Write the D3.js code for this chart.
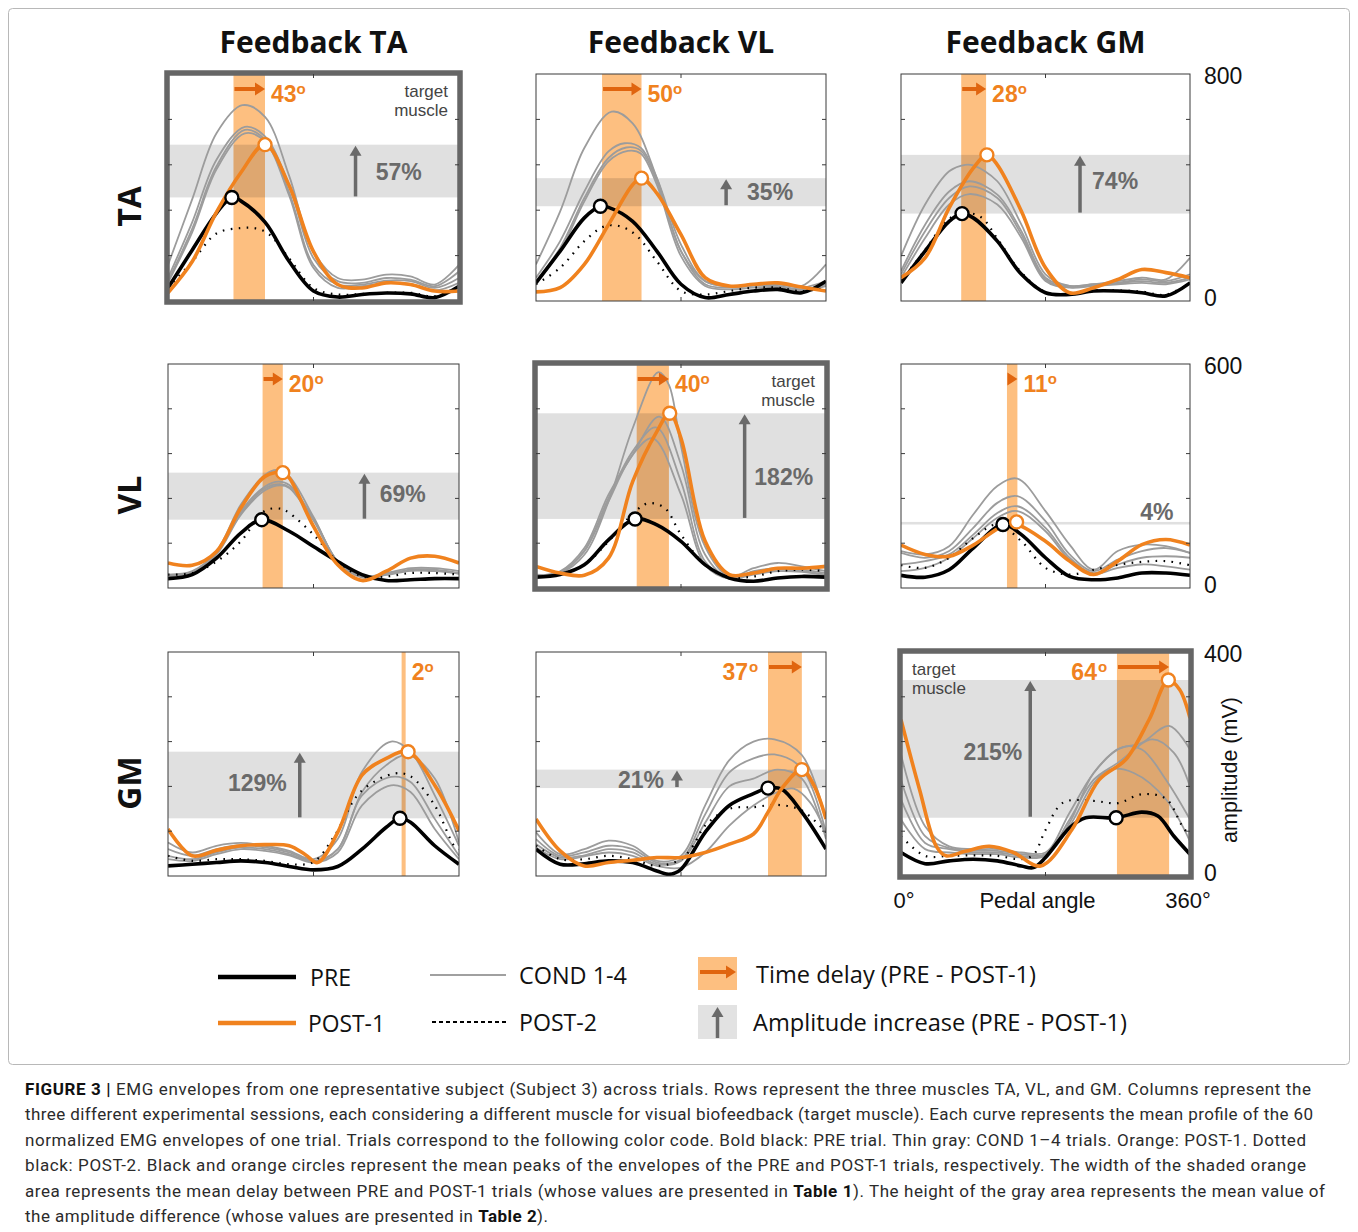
<!DOCTYPE html>
<html>
<head>
<meta charset="utf-8">
<script src="https://cdn.jsdelivr.net/npm/d3@7"></script>
<style>
  body { margin: 0; background: #fff; }
</style>
</head>
<body>
<svg id="chart" width="1358" height="1232"></svg>
<script>
// ---------- data ----------
let muscles = ['TA', 'VL', 'GM']
let sessions = ['Feedback TA', 'Feedback VL', 'Feedback GM']
let yMax = [800, 600, 400]
let delayLabels = [43, 50, 28, 20, 40, 11, 2, 37, 64]
let ampLabels = [57, 35, 74, 69, 182, 4, 129, 21, 215]

// peaks [angle, amplitude] of PRE and POST-1, row by row
let prePeaks = [[79,365],[80,334],[76,308],[116,183],[123,185],[127,170],[287,103],[288,157],[268,104]]
let postPeaks = [[120,551],[131,433],[107,515],[142,309],[166,468],[144,177],[297,222],[330,190],[333,350]]
// shaded delay band [start, end] in degrees
let delayBands = [[81,120],[82,131],[75,106],[117,142],[125,165],[132,145],[289,294],[288,330],[269,334]]

// row TA
let taTA_pre = [[0,46],[30,180],[60,310],[79,365],[90,353],[120,278],[150,139],[180,35],[210,14],[240,23],[270,28],[300,25],[330,12],[360,52]]
let taTA_post1 = [[0,29],[30,139],[60,313],[90,452],[120,551],[150,406],[180,174],[210,58],[240,46],[270,64],[300,58],[330,35],[360,35]]
let taTA_post2 = [[0,46],[30,139],[60,238],[90,257],[110,255],[125,235],[150,150],[180,46],[210,23],[240,25],[270,29],[300,29],[330,17],[360,52]]
let taTA_cond = [
  [[0,127],[30,359],[60,591],[92,690],[120,649],[150,440],[180,174],[210,81],[240,75],[270,93],[300,87],[330,58],[360,127]],
  [[0,81],[30,278],[60,498],[95,614],[120,580],[150,406],[180,151],[210,70],[240,64],[270,81],[300,75],[330,52],[360,104]],
  [[0,70],[30,255],[60,475],[95,603],[120,568],[150,382],[180,127],[210,58],[240,58],[270,72],[300,70],[330,46],[360,81]],
  [[0,64],[30,243],[60,464],[95,591],[120,562],[150,371],[180,116],[210,46],[240,52],[270,64],[300,60],[330,37],[360,64]]
]
let taVL_pre = [[0,64],[30,176],[60,293],[80,334],[90,330],[120,281],[150,176],[180,59],[210,12],[240,23],[270,35],[300,41],[330,29],[360,70]]
let taVL_post1 = [[0,32],[30,47],[60,129],[90,269],[120,410],[131,433],[150,380],[180,234],[210,82],[240,53],[270,59],[300,64],[330,49],[360,35]]
let taVL_post2 = [[0,59],[30,117],[60,211],[85,263],[105,263],[125,230],[150,140],[180,35],[210,23],[240,35],[270,47],[300,47],[330,35],[360,47]]
let taVL_cond = [
  [[0,129],[30,316],[60,539],[94,667],[120,626],[150,433],[180,176],[210,70],[240,53],[270,59],[300,64],[330,53],[360,129]],
  [[0,82],[30,211],[60,386],[90,527],[110,556],[130,540],[150,433],[180,199],[210,70],[240,53],[270,59],[300,59],[330,47],[360,70]],
  [[0,70],[30,187],[60,363],[90,504],[112,541],[130,530],[150,422],[180,176],[210,59],[240,47],[270,53],[300,53],[330,41],[360,59]],
  [[0,64],[30,176],[60,351],[90,492],[114,529],[130,520],[150,410],[180,158],[210,53],[240,41],[270,47],[300,49],[330,37],[360,53]]
]
let taGM_pre = [[0,64],[30,176],[60,281],[76,308],[90,293],[120,211],[150,94],[180,29],[210,23],[240,35],[270,35],[300,29],[330,18],[360,64]]
let taGM_post1 = [[0,82],[30,152],[60,328],[90,468],[107,515],[120,480],[150,316],[180,117],[210,29],[240,47],[270,76],[300,111],[330,100],[360,82]]
let taGM_post2 = [[0,70],[30,180],[60,290],[80,310],[100,295],[120,220],[150,100],[180,32],[210,25],[240,37],[270,37],[300,33],[330,22],[360,64]]
let taGM_cond = [
  [[0,158],[30,340],[60,457],[80,480],[90,478],[120,422],[150,269],[180,94],[210,53],[240,59],[270,70],[300,82],[330,76],[360,152]],
  [[0,105],[30,269],[60,386],[85,422],[120,375],[150,246],[180,82],[210,53],[240,59],[270,64],[300,76],[330,70],[360,94]],
  [[0,94],[30,246],[60,363],[85,404],[120,363],[150,234],[180,76],[210,49],[240,56],[270,63],[300,70],[330,64],[360,82]],
  [[0,82],[30,222],[60,340],[85,377],[120,340],[150,222],[180,70],[210,47],[240,53],[270,59],[300,64],[330,59],[360,76]]
]

// row VL
let vlTA_pre = [[0,25],[30,36],[60,80],[90,147],[116,183],[150,152],[180,111],[210,71],[240,36],[270,20],[300,22],[330,25],[360,25]]
let vlTA_post1 = [[0,67],[30,61],[60,98],[90,214],[120,299],[142,309],[150,295],[180,165],[210,62],[240,20],[270,45],[300,80],[330,85],[360,67]]
let vlTA_post2 = [[0,36],[30,40],[60,71],[90,125],[120,207],[140,212],[150,201],[180,143],[210,71],[240,31],[270,31],[300,40],[330,40],[360,36]]
let vlTA_cond = [
  [[0,36],[30,45],[60,98],[90,223],[120,303],[135,316],[150,299],[180,190],[210,71],[240,31],[270,40],[300,53],[330,53],[360,45]],
  [[0,34],[30,43],[60,94],[90,205],[120,272],[137,285],[150,276],[180,187],[210,71],[240,29],[270,36],[300,49],[330,49],[360,40]],
  [[0,32],[30,42],[60,92],[90,200],[120,267],[138,278],[150,270],[180,184],[210,70],[240,28],[270,35],[300,46],[330,47],[360,38]],
  [[0,33],[30,41],[60,90],[90,196],[120,262],[139,275],[150,268],[180,181],[210,69],[240,30],[270,38],[300,47],[330,45],[360,39]]
]
let vlVL_pre = [[0,29],[30,36],[60,62],[90,129],[123,185],[150,169],[180,125],[210,62],[240,27],[270,18],[300,27],[330,31],[360,29]]
let vlVL_post1 = [[0,58],[30,40],[60,34],[90,80],[120,285],[150,419],[166,468],[180,401],[210,125],[240,36],[270,40],[300,53],[330,53],[360,58]]
let vlVL_post2 = [[0,31],[30,36],[60,62],[90,125],[123,205],[140,227],[160,214],[180,143],[210,62],[240,29],[270,31],[300,45],[330,49],[360,45]]
let vlVL_cond = [
  [[0,36],[30,40],[60,89],[90,232],[120,428],[152,578],[165,544],[180,380],[210,110],[240,31],[270,53],[300,67],[330,58],[360,45]],
  [[0,34],[30,45],[60,107],[90,250],[120,357],[153,459],[180,330],[210,89],[240,27],[270,45],[300,53],[330,49],[360,40]],
  [[0,33],[30,43],[60,100],[90,241],[120,366],[149,430],[180,285],[210,71],[240,25],[270,40],[300,49],[330,45],[360,36]],
  [[0,30],[30,41],[60,98],[90,232],[120,357],[145,401],[180,250],[210,62],[240,25],[270,36],[300,45],[330,43],[360,34]]
]
let vlGM_pre = [[0,34],[30,29],[60,49],[90,107],[127,170],[150,143],[180,81],[210,31],[240,22],[270,27],[300,40],[330,40],[360,34]]
let vlGM_post1 = [[0,115],[30,90],[60,85],[90,115],[127,166],[144,170],[180,125],[210,72],[240,36],[270,72],[300,116],[330,130],[360,115]]
let vlGM_post2 = [[0,61],[30,54],[60,81],[90,134],[120,170],[150,125],[180,54],[210,36],[240,49],[270,62],[300,70],[330,72],[360,61]]
let vlGM_cond = [
  [[0,99],[30,90],[60,112],[90,197],[120,273],[145,293],[180,206],[210,116],[240,49],[270,99],[300,116],[330,112],[360,94]],
  [[0,94],[30,81],[60,99],[90,161],[120,228],[145,246],[180,179],[210,90],[240,45],[270,76],[300,99],[330,107],[360,94]],
  [[0,63],[30,72],[60,90],[90,143],[120,201],[145,219],[180,161],[210,81],[240,40],[270,63],[300,81],[330,85],[360,81]],
  [[0,45],[30,54],[60,81],[90,134],[120,188],[145,206],[180,152],[210,76],[240,38],[270,54],[300,63],[330,58],[360,49]]
]

// row GM
let gmTA_pre = [[0,18],[30,21],[60,24],[90,27],[120,24],[150,17],[180,11],[210,17],[240,48],[270,87],[287,103],[300,96],[330,54],[360,21]]
let gmTA_post1 = [[0,84],[30,36],[60,46],[90,54],[120,56],[150,54],[170,38],[185,24],[210,78],[240,180],[270,210],[297,222],[330,162],[360,81]]
let gmTA_post2 = [[0,36],[30,27],[60,30],[90,30],[120,27],[150,21],[180,25],[206,72],[238,150],[280,183],[300,178],[330,126],[354,54],[360,48]]
let gmTA_cond = [
  [[0,60],[30,42],[60,54],[90,59],[120,54],[150,45],[180,30],[210,66],[240,186],[276,240],[300,222],[330,144],[360,54]],
  [[0,48],[30,36],[60,48],[90,55],[120,51],[150,42],[180,27],[210,48],[240,150],[270,198],[297,216],[330,174],[360,60]],
  [[0,36],[30,30],[60,42],[90,51],[120,48],[150,39],[180,25],[210,48],[240,144],[276,177],[300,168],[330,102],[360,36]],
  [[0,30],[30,27],[60,39],[90,48],[120,45],[150,37],[180,24],[210,42],[240,126],[276,162],[300,150],[330,84],[360,30]]
]
let gmVL_pre = [[0,48],[30,21],[60,22],[90,27],[120,24],[150,9],[165,3],[180,12],[210,78],[240,126],[270,147],[288,157],[305,155],[330,114],[360,48]]
let gmVL_post1 = [[0,102],[30,45],[60,18],[90,24],[120,28],[150,33],[180,33],[210,42],[240,57],[270,75],[288,114],[305,156],[330,190],[345,162],[360,102]]
let gmVL_post2 = [[0,54],[30,30],[60,30],[90,36],[120,30],[150,18],[180,30],[195,54],[210,90],[240,120],[270,123],[300,127],[330,117],[360,78]]
let gmVL_cond = [
  [[0,78],[30,39],[60,48],[90,63],[120,54],[150,27],[180,36],[210,126],[240,207],[270,240],[296,244],[330,216],[360,102]],
  [[0,66],[30,36],[60,42],[90,54],[120,48],[150,24],[180,30],[210,110],[240,185],[270,210],[296,217],[330,192],[360,78]],
  [[0,57],[30,33],[60,37],[90,48],[120,42],[150,21],[180,27],[210,95],[240,160],[270,174],[300,190],[330,174],[360,66]],
  [[0,51],[30,30],[60,35],[90,42],[120,36],[150,18],[180,15],[210,42],[240,90],[270,126],[300,150],[320,156],[340,132],[360,78]]
]
let gmGM_pre = [[0,42],[30,22],[60,27],[90,30],[120,27],[150,18],[165,15],[180,33],[210,86],[230,104],[268,104],[300,114],[320,107],[340,71],[360,39]]
let gmGM_post1 = [[0,279],[23,155],[44,53],[56,36],[80,44],[110,53],[140,42],[174,18],[213,83],[247,172],[280,208],[309,279],[333,350],[347,333],[360,282]]
let gmGM_post2 = [[0,71],[30,36],[60,36],[90,37],[120,36],[150,30],[165,38],[180,82],[202,131],[240,134],[270,130],[300,146],[330,138],[350,90],[360,71]]
let gmGM_cond = [
  [[0,217],[30,89],[60,53],[90,48],[120,48],[150,42],[180,42],[210,113],[240,184],[270,226],[300,238],[334,268],[360,226]],
  [[0,172],[30,71],[60,50],[90,45],[120,45],[150,39],[180,39],[210,101],[240,172],[270,202],[313,244],[340,220],[360,160]],
  [[0,137],[30,59],[60,48],[90,42],[120,42],[150,36],[180,37],[210,95],[240,184],[276,230],[300,226],[330,172],[360,101]],
  [[0,101],[30,48],[60,42],[90,39],[120,39],[150,33],[180,36],[210,89],[240,166],[260,190],[290,184],[330,137],[360,62]]
]

let captionLines = [
  [['FIGURE 3 | ', true], ['EMG envelopes from one representative subject (Subject 3) across trials. Rows represent the three muscles TA, VL, and GM. Columns represent the', false]],
  [['three different experimental sessions, each considering a different muscle for visual biofeedback (target muscle). Each curve represents the mean profile of the 60', false]],
  [['normalized EMG envelopes of one trial. Trials correspond to the following color code. Bold black: PRE trial. Thin gray: COND 1\u20134 trials. Orange: POST-1. Dotted', false]],
  [['black: POST-2. Black and orange circles represent the mean peaks of the envelopes of the PRE and POST-1 trials, respectively. The width of the shaded orange', false]],
  [['area represents the mean delay between PRE and POST-1 trials (whose values are presented in ', false], ['Table 1', true], ['). The height of the gray area represents the mean value of', false]],
  [['the amplitude difference (whose values are presented in ', false], ['Table 2', true], [').', false]]
]

// ---------- layout ----------
let colX = [[168, 459], [536, 826], [901, 1190]]
let rowY = [[74, 301], [364, 588], [652, 876]]
let orange = '#f0821e'
let orangeDark = '#e0650f'
let orangeBand = '#fdbf80'
let grayText = '#6a6a6a'
let serif = 'Liberation Sans, Arial, sans-serif'

let curves = [
  [taTA_pre, taTA_post1, taTA_post2, taTA_cond],
  [taVL_pre, taVL_post1, taVL_post2, taVL_cond],
  [taGM_pre, taGM_post1, taGM_post2, taGM_cond],
  [vlTA_pre, vlTA_post1, vlTA_post2, vlTA_cond],
  [vlVL_pre, vlVL_post1, vlVL_post2, vlVL_cond],
  [vlGM_pre, vlGM_post1, vlGM_post2, vlGM_cond],
  [gmTA_pre, gmTA_post1, gmTA_post2, gmTA_cond],
  [gmVL_pre, gmVL_post1, gmVL_post2, gmVL_cond],
  [gmGM_pre, gmGM_post1, gmGM_post2, gmGM_cond]
]

// where the annotations sit in each panel (angles in degrees)
let labelLayout = [
  { delaySide: 'right', ampArrow: 232, ampText: 257, ampAnchor: 'start', ampDy: 1, target: 'right' },
  { delaySide: 'right', ampArrow: 236, ampText: 262, ampAnchor: 'start', ampDy: 0 },
  { delaySide: 'right', ampArrow: 223, ampText: 238, ampAnchor: 'start', ampDy: -4 },
  { delaySide: 'right', ampArrow: 243, ampText: 262, ampAnchor: 'start', ampDy: -2 },
  { delaySide: 'right', ampArrow: 259, ampText: 271, ampAnchor: 'start', ampDy: 11, target: 'right' },
  { delaySide: 'right', ampArrow: null, ampText: 298, ampAnchor: 'start', ampDy: -12 },
  { delaySide: 'right', noDelayArrow: true, ampArrow: 163, ampText: 147, ampAnchor: 'end', ampDy: -2 },
  { delaySide: 'left', ampArrow: 175, ampText: 159, ampAnchor: 'end', ampDy: 1 },
  { delaySide: 'left', ampArrow: 161, ampText: 151, ampAnchor: 'end', ampDy: 3, target: 'left' }
]

let svg = d3.select('#chart')

// figure frame
svg.append('rect')
  .attr('x', 8.5).attr('y', 8.5)
  .attr('width', 1341).attr('height', 1056)
  .attr('rx', 4)
  .attr('fill', 'none')
  .attr('stroke', '#b8b8b8')

let hArrow = (g, xa, xb, yy, color) => {
  g.append('line').attr('x1', xa).attr('x2', xb - 8).attr('y1', yy).attr('y2', yy)
    .attr('stroke', color).attr('stroke-width', 4)
  g.append('path')
    .attr('d', `M${xb - 10},${yy - 6.5}L${xb},${yy}L${xb - 10},${yy + 6.5}Z`)
    .attr('fill', color)
}

let vArrow = (g, xx, ya, yb, color) => {
  g.append('line').attr('x1', xx).attr('x2', xx).attr('y1', ya).attr('y2', yb + 8)
    .attr('stroke', color).attr('stroke-width', 3.5)
  g.append('path')
    .attr('d', `M${xx - 6},${yb + 10}L${xx},${yb}L${xx + 6},${yb + 10}Z`)
    .attr('fill', color)
}

let degText = (g, xx, yy, value, anchor) => {
  let t = g.append('text')
    .attr('x', xx).attr('y', yy)
    .attr('text-anchor', anchor)
    .attr('font-family', serif).attr('font-weight', 'bold')
    .attr('font-size', 23).attr('fill', orange)
  t.append('tspan').text(value)
  t.append('tspan').attr('dy', -8).attr('font-size', 15).text('o')
}

let drawPanel = (r, c) => {
  let i = r * 3 + c
  let [x0, x1] = colX[c]
  let [y0, y1] = rowY[r]
  let x = d3.scaleLinear().domain([0, 360]).range([x0, x1])
  let y = d3.scaleLinear().domain([0, yMax[r]]).range([y1, y0])
  let g = svg.append('g')
  let isTarget = r === c
  let lay = labelLayout[i]

  let clipId = 'clip' + i
  svg.append('clipPath').attr('id', clipId)
    .append('rect').attr('x', x0).attr('y', y0).attr('width', x1 - x0).attr('height', y1 - y0)

  let band = delayBands[i]
  g.append('rect')
    .attr('x', x(band[0])).attr('y', y0)
    .attr('width', x(band[1]) - x(band[0])).attr('height', y1 - y0)
    .attr('fill', orangeBand)

  let pre = prePeaks[i], post = postPeaks[i]
  g.append('rect')
    .attr('x', x0).attr('width', x1 - x0)
    .attr('y', y(post[1])).attr('height', Math.max(1.5, y(pre[1]) - y(post[1])))
    .attr('fill', '#000').attr('fill-opacity', 0.12)

  let line = d3.line()
    .x(d => x(d[0]))
    .y(d => y(d[1]))
    .curve(d3.curveCatmullRom.alpha(0.5))

  let [cPre, cPost1, cPost2, cCond] = curves[i]
  let lines = g.append('g').attr('clip-path', `url(#${clipId})`)
  lines.selectAll('.cond')
    .data(cCond)
    .enter()
    .append('path')
    .attr('class', 'cond')
    .attr('d', line)
    .attr('fill', 'none')
    .attr('stroke', '#9c9c9c')
    .attr('stroke-width', 1.8)
  lines.append('path').attr('d', line(cPost2))
    .attr('fill', 'none').attr('stroke', '#000')
    .attr('stroke-width', 2.2).attr('stroke-dasharray', '1.6,6.4')
  lines.append('path').attr('d', line(cPre))
    .attr('fill', 'none').attr('stroke', '#000').attr('stroke-width', 3.6)
  lines.append('path').attr('d', line(cPost1))
    .attr('fill', 'none').attr('stroke', orange).attr('stroke-width', 3.6)

  g.append('circle').attr('cx', x(pre[0])).attr('cy', y(pre[1])).attr('r', 6.5)
    .attr('fill', '#fff').attr('stroke', '#000').attr('stroke-width', 2.4)
  g.append('circle').attr('cx', x(post[0])).attr('cy', y(post[1])).attr('r', 6.5)
    .attr('fill', '#fff').attr('stroke', orange).attr('stroke-width', 2.4)

  // frame and ticks
  if (isTarget) {
    g.append('rect').attr('x', x0 - 1).attr('y', y0 - 1)
      .attr('width', x1 - x0 + 2).attr('height', y1 - y0 + 2)
      .attr('fill', 'none').attr('stroke', '#666').attr('stroke-width', 5.5)
  } else {
    g.append('rect').attr('x', x0).attr('y', y0)
      .attr('width', x1 - x0).attr('height', y1 - y0)
      .attr('fill', 'none').attr('stroke', '#3a3a3a').attr('stroke-width', 1)
  }
  let yt = d3.range(1, 5).map(k => yMax[r] * k / 5)
  yt.forEach(v => {
    g.append('line').attr('x1', x0).attr('x2', x0 + 4).attr('y1', y(v)).attr('y2', y(v)).attr('stroke', '#3a3a3a')
    g.append('line').attr('x1', x1).attr('x2', x1 - 4).attr('y1', y(v)).attr('y2', y(v)).attr('stroke', '#3a3a3a')
  })
  g.append('line').attr('x1', x(180)).attr('x2', x(180)).attr('y1', y0).attr('y2', y0 + 4).attr('stroke', '#3a3a3a')
  g.append('line').attr('x1', x(180)).attr('x2', x(180)).attr('y1', y1).attr('y2', y1 - 4).attr('stroke', '#3a3a3a')

  // delay annotation
  let bx0 = x(band[0]), bx1 = x(band[1])
  if (!lay.noDelayArrow) hArrow(g, bx0 + 1, bx1, y0 + 15, orangeDark)
  if (lay.delaySide === 'right') degText(g, bx1 + 6, y0 + 28, delayLabels[i], 'start')
  else {
    let t = g.append('text')
      .attr('x', bx0 - 20).attr('y', y0 + 28)
      .attr('text-anchor', 'end')
      .attr('font-family', serif).attr('font-weight', 'bold')
      .attr('font-size', 23).attr('fill', orange)
    t.append('tspan').text(delayLabels[i])
    g.append('text').attr('x', bx0 - 19).attr('y', y0 + 20)
      .attr('font-family', serif).attr('font-weight', 'bold')
      .attr('font-size', 15).attr('fill', orange).text('o')
  }

  // amplitude annotation
  let yTop = y(post[1]), yBot = y(pre[1])
  if (lay.ampArrow !== null) vArrow(g, x(lay.ampArrow), yBot - 1, yTop + 1, grayText)
  g.append('text')
    .attr('x', x(lay.ampText)).attr('y', (yTop + yBot) / 2 + lay.ampDy)
    .attr('dy', '0.36em')
    .attr('text-anchor', lay.ampAnchor)
    .attr('font-family', serif).attr('font-weight', 'bold')
    .attr('font-size', 23).attr('fill', grayText)
    .text(ampLabels[i] + '%')

  if (lay.target) {
    let tx = lay.target === 'right' ? x1 - 11 : x0 + 11
    let anchor = lay.target === 'right' ? 'end' : 'start'
    let t = g.append('text')
      .attr('text-anchor', anchor)
      .attr('font-family', serif).attr('font-size', 17).attr('fill', '#444')
    t.append('tspan').attr('x', tx).attr('y', y0 + 23).text('target')
    t.append('tspan').attr('x', tx).attr('y', y0 + 42).text('muscle')
  }

  // right-hand amplitude scale
  if (c === 2) {
    g.append('text').attr('x', 1204).attr('y', y0 + 2).attr('dy', '0.36em')
      .attr('font-family', serif).attr('font-size', 23).attr('fill', '#111')
      .text(yMax[r])
    g.append('text').attr('x', 1204).attr('y', y1 - 3).attr('dy', '0.36em')
      .attr('font-family', serif).attr('font-size', 23).attr('fill', '#111')
      .text(0)
  }
}

for (let r = 0; r < 3; r++) {
  for (let c = 0; c < 3; c++) drawPanel(r, c)
}

// column titles
sessions.forEach((s, c) => {
  svg.append('text')
    .attr('x', (colX[c][0] + colX[c][1]) / 2).attr('y', 53)
    .attr('text-anchor', 'middle')
    .attr('font-family', 'Open Sans, sans-serif').attr('font-weight', 'bold')
    .attr('font-size', 30).attr('fill', '#111')
    .text(s)
})

// row labels
muscles.forEach((m, r) => {
  let cy = (rowY[r][0] + rowY[r][1]) / 2 + 19
  svg.append('text')
    .attr('transform', `translate(141,${cy}) rotate(-90)`)
    .attr('text-anchor', 'middle')
    .attr('font-family', 'Open Sans, sans-serif').attr('font-weight', 'bold')
    .attr('font-size', 32).attr('fill', '#111')
    .text(m)
})

// axis titles (bottom-right panel)
let ax = d3.scaleLinear().domain([0, 360]).range(colX[2])
svg.append('text').attr('x', ax(0) + 3).attr('y', 900).attr('dy', '0.36em')
  .attr('text-anchor', 'middle').attr('font-family', serif).attr('font-size', 22).attr('fill', '#111').text('0°')
svg.append('text').attr('x', ax(180) - 8).attr('y', 900).attr('dy', '0.36em')
  .attr('text-anchor', 'middle').attr('font-family', serif).attr('font-size', 22).attr('fill', '#111').text('Pedal angle')
svg.append('text').attr('x', ax(360) - 2).attr('y', 900).attr('dy', '0.36em')
  .attr('text-anchor', 'middle').attr('font-family', serif).attr('font-size', 22).attr('fill', '#111').text('360°')
svg.append('text')
  .attr('transform', `translate(1229,${(rowY[2][0] + rowY[2][1]) / 2 + 6}) rotate(-90)`)
  .attr('dy', '0.36em')
  .attr('text-anchor', 'middle').attr('font-family', serif).attr('font-size', 21.5).attr('fill', '#111')
  .text('amplitude (mV)')

// legend
let legend = svg.append('g')
let legendFont = 'Open Sans, sans-serif'
let legText = (x, y, s, w) => legend.append('text')
  .attr('x', x).attr('y', y)
  .attr('font-family', legendFont).attr('font-size', 23).attr('fill', '#111')
  .attr('textLength', w).attr('lengthAdjust', 'spacingAndGlyphs')
  .text(s)

legend.append('line').attr('x1', 218).attr('x2', 296).attr('y1', 977).attr('y2', 977)
  .attr('stroke', '#000').attr('stroke-width', 4.5)
legText(310, 986, 'PRE', 41)
legend.append('line').attr('x1', 218).attr('x2', 296).attr('y1', 1023).attr('y2', 1023)
  .attr('stroke', orange).attr('stroke-width', 4.5)
legText(308, 1032, 'POST-1', 77)
legend.append('line').attr('x1', 430).attr('x2', 506).attr('y1', 975).attr('y2', 975)
  .attr('stroke', '#a0a0a0').attr('stroke-width', 2)
legText(519, 984, 'COND 1-4', 108)
legend.append('line').attr('x1', 432).attr('x2', 506).attr('y1', 1022).attr('y2', 1022)
  .attr('stroke', '#000').attr('stroke-width', 2).attr('stroke-dasharray', '4,3')
legText(519, 1031, 'POST-2', 78)

legend.append('rect').attr('x', 698).attr('y', 957).attr('width', 39).attr('height', 33).attr('fill', orangeBand)
hArrow(legend, 700, 736, 972, orangeDark)
legText(756, 983, 'Time delay (PRE - POST-1)', 280)
legend.append('rect').attr('x', 698).attr('y', 1005).attr('width', 39).attr('height', 34).attr('fill', '#e2e2e2')
vArrow(legend, 717.5, 1038, 1007, grayText)
legText(753, 1031, 'Amplitude increase (PRE - POST-1)', 374)

// caption
let capWidths = [1286, 1288, 1281, 1281, 1300, 523]
captionLines.forEach((segs, k) => {
  let t = svg.append('text')
    .attr('x', 25).attr('y', 1095 + k * 25.4)
    .attr('font-family', 'Roboto, Liberation Sans, sans-serif').attr('font-size', 17)
    .attr('fill', '#2b2b2b')
    .attr('textLength', capWidths[k]).attr('lengthAdjust', 'spacing')
  segs.forEach(s => {
    t.append('tspan').attr('font-weight', s[1] ? 'bold' : 'normal')
      .attr('fill', s[1] ? '#111' : '#2b2b2b').text(s[0])
  })
})
</script>
</body>
</html>
